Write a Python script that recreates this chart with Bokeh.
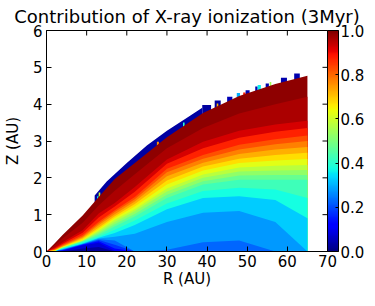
import numpy as np
from bokeh.plotting import figure
from bokeh.models import (Range1d, ColorBar, LinearColorMapper, FixedTicker,
                          PrintfTickFormatter, ColumnDataSource)
from bokeh.embed import file_html
from bokeh.resources import INLINE

# ---------------- data ----------------
# radial columns (AU) at which the heights below were read
R_cols = [0, 2, 4, 9, 13, 17, 22, 30, 39, 48, 57, 65]
# upper edge of the computed region (AU)
Z_edge = [0, 0.22, 0.45, 0.98, 1.48, 1.97, 2.40, 3.10, 3.76, 4.22, 4.55, 4.77]

# height Z (AU) at which the X-ray contribution reaches each level, per column
Z_lev_005 = [0, 0, 0, 0.08, 0.12, 0, 0, 0, 0, 0, 0, 0]
Z_lev_010 = [0, 0, 0.02, 0.16, 0.24, 0.02, 0, 0, 0, 0, 0, 0]
Z_lev_015 = [0, 0, 0.03, 0.18, 0.28, 0.08, 0, 0, 0, 0, 0, 0]
Z_lev_020 = [0, 0, 0.04, 0.19, 0.31, 0.18, 0, 0, 0, 0, 0, 0]
Z_lev_025 = [0, 0, 0.05, 0.20, 0.33, 0.30, 0, 0.05, 0.25, 0.30, 0, 0]
Z_lev_030 = [0, 0, 0.06, 0.21, 0.35, 0.40, 0.48, 0.80, 1.05, 1.10, 0.80, 0]
Z_lev_035 = [0, 0, 0.07, 0.22, 0.37, 0.50, 0.72, 1.15, 1.45, 1.50, 1.40, 0.90]
Z_lev_040 = [0, 0, 0.08, 0.25, 0.40, 0.59, 0.84, 1.30, 1.64, 1.73, 1.68, 1.45]
Z_lev_045 = [0, 0, 0.09, 0.27, 0.45, 0.68, 0.95, 1.45, 1.82, 1.95, 1.95, 1.95]
Z_lev_050 = [0, 0, 0.10, 0.28, 0.49, 0.74, 1.02, 1.54, 1.91, 2.06, 2.08, 2.08]
Z_lev_055 = [0, 0, 0.11, 0.29, 0.53, 0.80, 1.09, 1.63, 2.00, 2.17, 2.20, 2.21]
Z_lev_060 = [0, 0.01, 0.115, 0.30, 0.57, 0.86, 1.15, 1.71, 2.09, 2.28, 2.33, 2.35]
Z_lev_065 = [0, 0.02, 0.12, 0.32, 0.61, 0.91, 1.22, 1.82, 2.20, 2.40, 2.47, 2.51]
Z_lev_070 = [0, 0.03, 0.13, 0.35, 0.65, 0.96, 1.29, 1.93, 2.31, 2.52, 2.62, 2.68]
Z_lev_075 = [0, 0.04, 0.14, 0.38, 0.71, 1.01, 1.36, 2.04, 2.41, 2.65, 2.77, 2.84]
Z_lev_080 = [0, 0.05, 0.16, 0.41, 0.76, 1.07, 1.42, 2.15, 2.52, 2.77, 2.91, 3.00]
Z_lev_085 = [0, 0.06, 0.18, 0.45, 0.81, 1.12, 1.48, 2.25, 2.62, 2.90, 3.05, 3.15]
Z_lev_090 = [0, 0.08, 0.21, 0.51, 0.92, 1.22, 1.62, 2.38, 2.80, 3.09, 3.25, 3.35]
Z_lev_095 = [0, 0.11, 0.25, 0.58, 1.03, 1.32, 1.75, 2.50, 2.98, 3.28, 3.45, 3.55]
Z_lev_0975 = [0, 0.16, 0.35, 0.78, 1.25, 1.65, 2.10, 2.80, 3.35, 3.75, 4.00, 4.20]

levels = [0.05, 0.10, 0.15, 0.20, 0.25, 0.30, 0.35, 0.40, 0.45, 0.50,
          0.55, 0.60, 0.65, 0.70, 0.75, 0.80, 0.85, 0.90, 0.95, 0.975]
level_heights = [Z_lev_005, Z_lev_010, Z_lev_015, Z_lev_020, Z_lev_025,
                 Z_lev_030, Z_lev_035, Z_lev_040, Z_lev_045, Z_lev_050,
                 Z_lev_055, Z_lev_060, Z_lev_065, Z_lev_070, Z_lev_075,
                 Z_lev_080, Z_lev_085, Z_lev_090, Z_lev_095, Z_lev_0975]

# noisy (failed) cells along the upper edge
strip_R = [12, 15, 20, 25, 30, 35, 38.8]
strip_top = [1.52, 1.90, 2.40, 2.88, 3.28, 3.63, 3.90]
noise_left = [12.6, 13.0, 27.5, 34.0, 38.8, 41.9, 42.4, 45.0, 47.4, 49.0, 49.6, 52.0, 52.6, 54.6, 55.6, 58.4, 61.7]
noise_right = [12.9, 13.4, 28.0, 34.4, 41.0, 43.4, 42.8, 46.3, 48.2, 49.6, 50.6, 52.6, 53.4, 55.4, 56.0, 59.9, 63.1]
noise_top = [1.50, 1.60, 2.98, 3.50, 3.98, 4.10, 4.02, 4.20, 4.30, 4.32, 4.38, 4.48, 4.52, 4.56, 4.60, 4.72, 4.83]
noise_val = [0.35, 0.60, 0.75, 0.40, 0.03, 0.03, 0.72, 0.05, 0.30, 0.88, 0.04, 0.04, 0.36, 0.04, 0.55, 0.04, 0.04]

x_ticks = [0, 10, 20, 30, 40, 50, 60, 70]
y_ticks = [0, 1, 2, 3, 4, 5, 6]
cbar_ticks = [0.0, 0.2, 0.4, 0.6, 0.8, 1.0]

# ---------------- jet colormap ----------------
def jet(v):
    r = np.interp(v, [0, 0.35, 0.66, 0.89, 1], [0, 0, 1, 1, 0.5])
    g = np.interp(v, [0, 0.125, 0.375, 0.64, 0.91, 1], [0, 0, 1, 1, 0, 0])
    b = np.interp(v, [0, 0.11, 0.34, 0.65, 1], [0.5, 1, 1, 0, 0])
    return "#%02x%02x%02x" % (int(round(r * 255)), int(round(g * 255)), int(round(b * 255)))

palette = [jet(i / 255) for i in range(256)]
mapper = LinearColorMapper(palette=palette, low=0, high=1)

FONT = "DejaVu Sans"

p = figure(width=367, height=290, x_range=Range1d(0, 70), y_range=Range1d(0, 6),
           output_backend="svg", toolbar_location=None,
           title="Contribution of X-ray ionization (3Myr)",
           min_border_left=39, min_border_top=29, min_border_bottom=38, min_border_right=0)
p.title.text_font = FONT
p.title.text_font_size = "18px"
p.title.text_font_style = "normal"
p.title.text_color = "black"
p.title.align = "center"
p.title.standoff = 7
p.grid.visible = False
p.outline_line_color = "black"
p.outline_line_width = 1
p.background_fill_color = "white"

# noise strip and noise cells (drawn first, the field covers the part below the edge)
p.varea(x=strip_R, y1=0, y2=strip_top, fill_color=jet(0.03))
nsrc = ColumnDataSource(dict(left=noise_left, right=noise_right, top=noise_top, val=noise_val))
p.quad(left="left", right="right", bottom=0, top="top", source=nsrc,
       fill_color={"field": "val", "transform": mapper}, line_color=None)

# filled bands: topmost first, each from the midplane up to its upper boundary
uppers = level_heights + [Z_edge]
band_lo = [0.0] + levels
band_hi = levels + [1.0]
for k in range(len(uppers) - 1, -1, -1):
    mid = 0.5 * (band_lo[k] + band_hi[k])
    p.varea(x=R_cols, y1=0, y2=uppers[k], fill_color=jet(mid))

# axes in matplotlib style
for ax in (p.xaxis[0], p.yaxis[0]):
    ax.major_tick_in = 5
    ax.major_tick_out = 0
    ax.minor_tick_line_color = None
    ax.major_tick_line_color = "black"
    ax.major_label_text_font = FONT
    ax.major_label_text_font_size = "15px"
    ax.major_label_text_color = "black"
    ax.major_label_text_line_height = 1.0
    ax.axis_label_text_font = FONT
    ax.axis_label_text_font_size = "15px"
    ax.axis_label_text_font_style = "normal"
    ax.axis_label_text_color = "black"
    ax.axis_label_text_line_height = 1.0
    ax.axis_line_color = "black"
p.xaxis.ticker = FixedTicker(ticks=x_ticks)
p.yaxis.ticker = FixedTicker(ticks=y_ticks)
p.xaxis.axis_label = "R (AU)"
p.yaxis.axis_label = "Z (AU)"
p.xaxis.major_label_standoff = 3
p.xaxis.axis_label_standoff = 0
p.yaxis.major_label_standoff = 4
p.yaxis.axis_label_standoff = 8

# ticks on the top and right frame edges (pointing inwards)
p.ray(x=x_ticks[1:-1], y=6, length=5, length_units="screen", angle=-np.pi / 2,
      line_color="black", line_width=1)
p.ray(x=70, y=y_ticks[1:-1], length=5, length_units="screen", angle=np.pi,
      line_color="black", line_width=1)

cb = ColorBar(color_mapper=mapper, ticker=FixedTicker(ticks=cbar_ticks),
              formatter=PrintfTickFormatter(format="%.1f"),
              width=11, padding=0, margin=12, label_standoff=2,
              major_label_text_font=FONT, major_label_text_font_size="15px",
              major_label_text_color="black",
              major_tick_line_color="black", major_tick_in=3, major_tick_out=0,
              minor_tick_line_color=None, bar_line_color="black",
              border_line_color=None, background_fill_color=None)
p.add_layout(cb, "right")

open("out.html", "w").write(file_html(p, INLINE))
